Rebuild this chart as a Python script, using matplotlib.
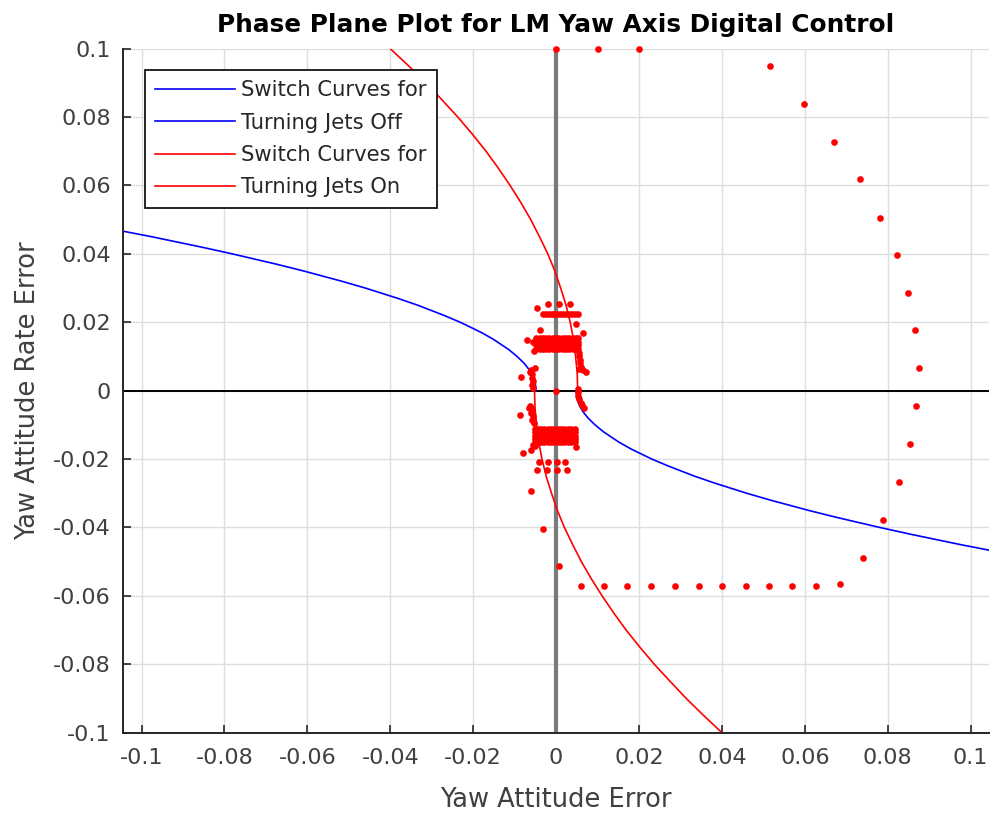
import matplotlib
matplotlib.use('Agg')
import matplotlib.pyplot as plt

plt.rcParams['font.family'] = ['DejaVu Sans']
plt.rcParams['axes.unicode_minus'] = False

# switch curves
off_upper_x = [-0.1060, -0.0975, -0.0856, -0.0781, -0.0675, -0.0609, -0.0517, -0.0460,
               -0.0382, -0.0334, -0.0270, -0.0231, -0.0180, -0.0151, -0.0114, -0.0094,
               -0.0077, -0.0064, -0.0055, -0.0050, -0.0048]
off_upper_y = [0.0470, 0.0450, 0.0420, 0.0400, 0.0370, 0.0350, 0.0320, 0.0300,
               0.0270, 0.0250, 0.0220, 0.0200, 0.0170, 0.0150, 0.0120, 0.0100,
               0.0080, 0.0060, 0.0040, 0.0020, 0.0000]
off_lower_x = [0.0048, 0.0050, 0.0055, 0.0064, 0.0077, 0.0094, 0.0114, 0.0151,
               0.0180, 0.0231, 0.0270, 0.0334, 0.0382, 0.0460, 0.0517, 0.0609,
               0.0675, 0.0781, 0.0856, 0.0975, 0.1060]
off_lower_y = [0.0000, -0.0020, -0.0040, -0.0060, -0.0080, -0.0100, -0.0120, -0.0150,
               -0.0170, -0.0200, -0.0220, -0.0250, -0.0270, -0.0300, -0.0320, -0.0350,
               -0.0370, -0.0400, -0.0420, -0.0450, -0.0470]

on_upper_x = [-0.0400, -0.0356, -0.0314, -0.0275, -0.0237, -0.0202, -0.0169, -0.0139,
              -0.0111, -0.0085, -0.0061, -0.0040, -0.0020, -0.0003, 0.0011, 0.0024,
              0.0034, 0.0042, 0.0047, 0.0051, 0.0052]
on_upper_y = [0.100, 0.095, 0.090, 0.085, 0.080, 0.075, 0.070, 0.065,
              0.060, 0.055, 0.050, 0.045, 0.040, 0.035, 0.030, 0.025,
              0.020, 0.015, 0.010, 0.005, 0.000]
on_lower_x = [-0.0052, -0.0051, -0.0047, -0.0042, -0.0034, -0.0024, -0.0011, 0.0003,
              0.0020, 0.0040, 0.0061, 0.0085, 0.0111, 0.0139, 0.0169, 0.0202,
              0.0237, 0.0275, 0.0314, 0.0356, 0.0400]
on_lower_y = [0.000, -0.005, -0.010, -0.015, -0.020, -0.025, -0.030, -0.035,
              -0.040, -0.045, -0.050, -0.055, -0.060, -0.065, -0.070, -0.075,
              -0.080, -0.085, -0.090, -0.095, -0.100]

# simulated trajectory samples
traj_x = [0.0000, 0.0100, 0.0200,
          0.0515, 0.0598, 0.0670, 0.0732, 0.0782, 0.0822, 0.0850, 0.0865, 0.0875,
          0.0869, 0.0853, 0.0826, 0.0789, 0.0740, 0.0684,
          0.0628, 0.0570, 0.0514, 0.0457, 0.0400, 0.0344, 0.0286, 0.0230, 0.0172,
          0.0116, 0.0060,
          0.0008, -0.0032, -0.0061, 0.0000]
traj_y = [0.1000, 0.1000, 0.1000,
          0.0949, 0.0838, 0.0727, 0.0618, 0.0506, 0.0396, 0.0286, 0.0177, 0.0066,
          -0.0046, -0.0156, -0.0267, -0.0377, -0.0488, -0.0565,
          -0.0571, -0.0571, -0.0571, -0.0571, -0.0571, -0.0571, -0.0571, -0.0571, -0.0571,
          -0.0571, -0.0571,
          -0.0513, -0.0405, -0.0294, 0.0000]

# limit cycle cluster near the origin: rows of (y, x values)
cluster_rows = [
    (0.0253, [-0.0019, 0.0007, 0.0033]),
    (0.0243, [-0.0045]),
    (0.0224, [-0.0032, -0.0025, -0.0018, -0.0011, -0.0004, 0.0003, 0.0010, 0.0017,
              0.0024, 0.0031, 0.0038, 0.0045, 0.0052]),
    (0.0153, [-0.0048, -0.0040, -0.0032, -0.0024, -0.0016, -0.0008, 0.0000, 0.0008,
              0.0016, 0.0024, 0.0032, 0.0040, 0.0048, 0.0054]),
    (0.0143, [-0.0055, -0.0048, -0.0040, -0.0032, -0.0024, -0.0016, -0.0008, 0.0000,
              0.0008, 0.0016, 0.0024, 0.0032, 0.0040, 0.0048, 0.0054]),
    (0.0133, [-0.0048, -0.0040, -0.0032, -0.0024, -0.0016, -0.0008, 0.0000, 0.0008,
              0.0016, 0.0024, 0.0032, 0.0040, 0.0048, 0.0054]),
    (0.0123, [-0.0048, -0.0040, -0.0032, -0.0024, -0.0016, -0.0008, 0.0000, 0.0008,
              0.0016, 0.0024, 0.0032, 0.0040, 0.0048, 0.0054]),
    (-0.0112, [-0.0052, -0.0044, -0.0036, -0.0028, -0.0020, -0.0012, -0.0004, 0.0004,
               0.0012, 0.0020, 0.0028, 0.0036, 0.0046]),
    (-0.0122, [-0.0052, -0.0044, -0.0036, -0.0028, -0.0020, -0.0012, -0.0004, 0.0004,
               0.0012, 0.0020, 0.0028, 0.0036, 0.0046]),
    (-0.0132, [-0.0052, -0.0044, -0.0036, -0.0028, -0.0020, -0.0012, -0.0004, 0.0004,
               0.0012, 0.0020, 0.0028, 0.0036, 0.0046]),
    (-0.0142, [-0.0052, -0.0044, -0.0036, -0.0028, -0.0020, -0.0012, -0.0004, 0.0004,
               0.0012, 0.0020, 0.0028, 0.0036, 0.0046]),
    (-0.0150, [-0.0052, -0.0044, -0.0036, -0.0028, -0.0020, -0.0012, -0.0004, 0.0004,
               0.0012, 0.0020, 0.0028, 0.0036, 0.0046]),
    (-0.0209, [-0.0041, -0.0019, 0.0002, 0.0021]),
    (-0.0231, [-0.0045, -0.0023, 0.0001, 0.0027]),
]
# scattered cluster points (x, y)
cluster_extra = [
    (0.0049, 0.0196), (0.0066, 0.0168), (-0.0038, 0.0176), (-0.0069, 0.0149), (-0.0053, 0.0116),
    (0.0055, 0.0110), (0.0056, 0.0100), (0.0057, 0.0090), (0.0058, 0.0080), (0.0060, 0.0070),
    (0.0065, 0.0060), (0.0072, 0.0055), (0.0056, 0.0062),
    (0.0053, 0.0005), (0.0053, -0.0005), (0.0054, -0.0015), (0.0056, -0.0025),
    (0.0059, -0.0035), (0.0063, -0.0043), (0.0068, -0.0050),
    (-0.0060, 0.0060), (-0.0051, 0.0065), (-0.0063, 0.0055), (-0.0057, 0.0048),
    (-0.0058, 0.0038), (-0.0055, 0.0028), (-0.0059, 0.0018), (-0.0056, 0.0008),
    (-0.0085, 0.0039),
    (-0.0062, -0.0045), (-0.0058, -0.0055), (-0.0060, -0.0065), (-0.0055, -0.0075),
    (-0.0058, -0.0085), (-0.0053, -0.0095), (-0.0066, -0.0050), (-0.0088, -0.0072),
    (-0.0081, -0.0181), (-0.0060, -0.0172), (-0.0050, -0.0163), (-0.0056, -0.0158),
    (0.0049, -0.0164),
]

ticks = [-0.1, -0.08, -0.06, -0.04, -0.02, 0, 0.02, 0.04, 0.06, 0.08, 0.1]
tick_labels = ['-0.1', '-0.08', '-0.06', '-0.04', '-0.02', '0',
               '0.02', '0.04', '0.06', '0.08', '0.1']

fig = plt.figure(figsize=(9.91, 8.14), dpi=100)
ax = fig.add_axes([0.1244, 0.0999, 0.8735, 0.8403])

ax.grid(True, color='#dedede', linewidth=1.0)
ax.set_axisbelow(True)

ax.axvline(0, color='#7a7a7a', linewidth=3.0, zorder=1.5)
ax.axhline(0, color='black', linewidth=1.4, zorder=1.5)

l1, = ax.plot(off_upper_x, off_upper_y, color='#0000ff', linewidth=1.2)
l2, = ax.plot(off_lower_x, off_lower_y, color='#0000ff', linewidth=1.2)
l3, = ax.plot(on_upper_x, on_upper_y, color='#ff0000', linewidth=1.2)
l4, = ax.plot(on_lower_x, on_lower_y, color='#ff0000', linewidth=1.2)

cx = []
cy = []
for yy, xs in cluster_rows:
    for xx in xs:
        cx.append(xx)
        cy.append(yy)
for xx, yy in cluster_extra:
    cx.append(xx)
    cy.append(yy)

ax.plot(traj_x, traj_y, 'o', color='#ff0000', markersize=4.8, markeredgewidth=0,
        clip_on=False, zorder=3)
ax.plot(cx, cy, 'o', color='#ff0000', markersize=4.8, markeredgewidth=0, zorder=3)

ax.set_xlim(-0.1044, 0.1044)
ax.set_ylim(-0.1, 0.1)
ax.set_xticks(ticks)
ax.set_xticklabels(tick_labels)
ax.set_yticks(ticks)
ax.set_yticklabels(tick_labels)
ax.tick_params(direction='in', length=6, width=1.2, colors='#262626',
               labelcolor='#404040', labelsize=16)
ax.tick_params(axis='x', pad=11)
ax.tick_params(axis='y', pad=9)

for s in ['top', 'right']:
    ax.spines[s].set_visible(False)
for s in ['left', 'bottom']:
    ax.spines[s].set_color('#262626')
    ax.spines[s].set_linewidth(1.4)

ax.set_title('Phase Plane Plot for LM Yaw Axis Digital Control',
             fontsize=17.8, fontweight='bold', pad=12)
ax.set_xlabel('Yaw Attitude Error', fontsize=18.5, color='#404040')
ax.set_ylabel('Yaw Attitude Rate Error', fontsize=18.5, color='#404040')
ax.xaxis.set_label_coords(0.5, -0.079)
ax.yaxis.set_label_coords(-0.095, 0.5)

leg = ax.legend([l1, l2, l3, l4],
                ['Switch Curves for', 'Turning Jets Off',
                 'Switch Curves for', 'Turning Jets On'],
                loc='upper left', bbox_to_anchor=(0.025, 0.969), borderaxespad=0,
                fontsize=15.2, handlelength=3.75, handletextpad=0.3,
                labelspacing=0.58, borderpad=0.5, fancybox=False, framealpha=1)
leg.get_frame().set_edgecolor('black')
leg.get_frame().set_linewidth(1.2)
for t in leg.get_texts():
    t.set_color('#262626')

plt.savefig('out.png', dpi=100)
